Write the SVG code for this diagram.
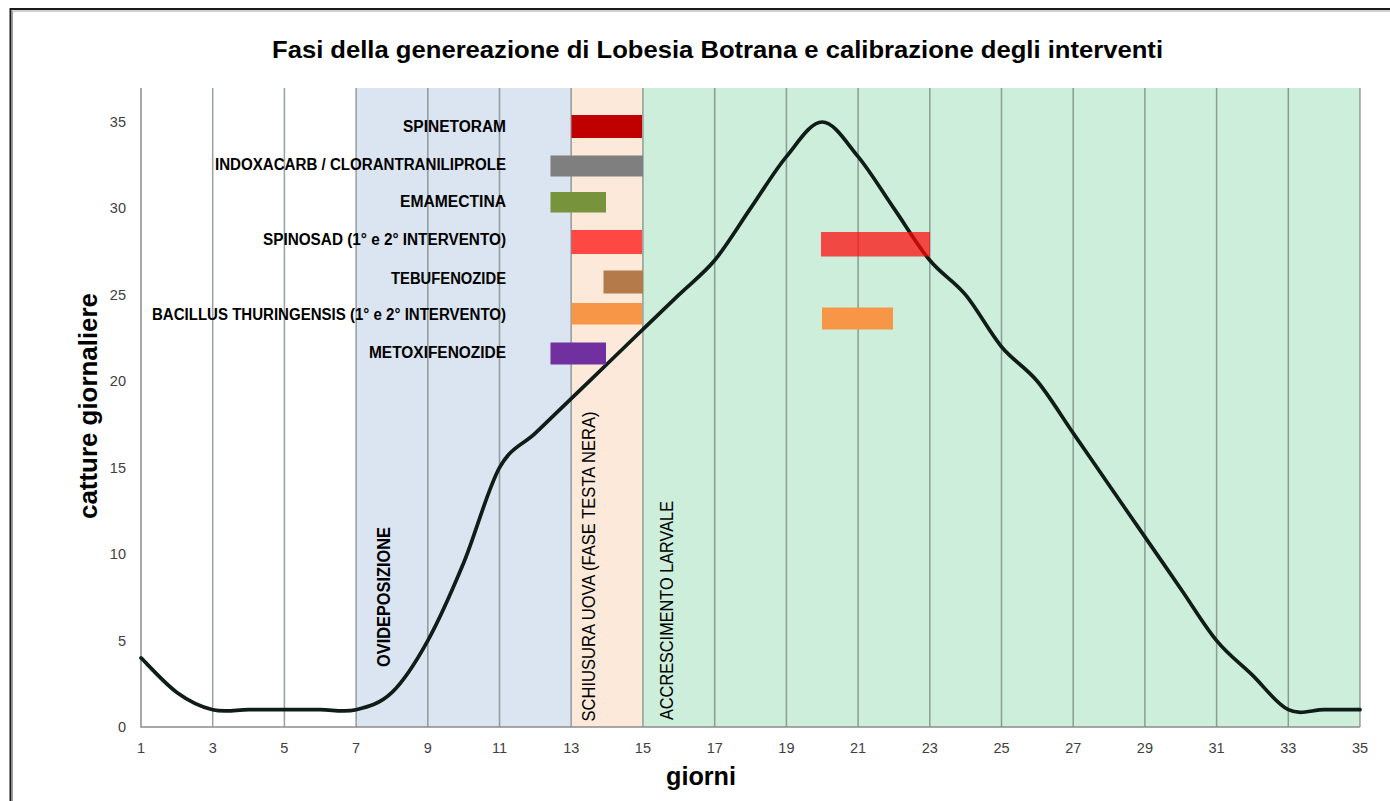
<svg xmlns="http://www.w3.org/2000/svg" width="1390" height="801" viewBox="0 0 1390 801">
<style>
  text { font-family: "Liberation Sans", Arial, sans-serif; }
  .grid { stroke: #6d7a76; stroke-opacity: 0.7; stroke-width: 1.5; fill: none; }
  .axis { stroke: #8c8c8c; stroke-width: 1.5; fill: none; }
  .tick { font-size: 14.5px; fill: #404040; }
  .xt { text-anchor: middle; }
  .yt { text-anchor: end; }
  .blab { font-size: 16px; font-weight: bold; fill: #000; text-anchor: end; }
  .vlab { font-size: 18px; fill: #000; }
  .atitle { font-size: 26px; font-weight: bold; fill: #000; }
  .curve { fill: none; stroke: #101c18; stroke-width: 3.7; stroke-linejoin: round; stroke-linecap: round; }
</style>
<rect x="0" y="0" width="1390" height="801" fill="#ffffff"/>
<g id="frame">
  <path d="M10.5,801 V9 H1390" fill="none" stroke="#1a1a1a" stroke-width="2"/>
  <path d="M12.5,801 V11 H1390" fill="none" stroke="#a0a0a0" stroke-width="1"/>
</g>
<text id="title" x="272" y="58" font-size="24" font-weight="bold" fill="#000" textLength="891" lengthAdjust="spacingAndGlyphs">Fasi della genereazione di Lobesia Botrana e calibrazione degli interventi</text>
<g id="phases">
  <rect id="phase-ovideposizione" x="356.1" y="88" width="215.1" height="639" fill="#dbe5f1"/>
  <rect id="phase-schiusura" x="571.2" y="88" width="71.7" height="639" fill="#fde9d9"/>
  <rect id="phase-accrescimento" x="642.9" y="88" width="717.1" height="639" fill="#cdeedb"/>
</g>
<g id="grid">
  <path class="grid" d="M212.7,88V727 M284.4,88V727 M356.1,88V727 M427.8,88V727 M499.5,88V727 M571.2,88V727 M642.9,88V727 M714.7,88V727 M786.4,88V727 M858.1,88V727 M929.8,88V727 M1001.5,88V727 M1073.2,88V727 M1144.9,88V727 M1216.6,88V727 M1288.3,88V727 M1360,88V727"/>
</g>
<g id="axes">
  <path class="axis" d="M141,88 V727 H1360"/>
</g>
<g id="y-ticks" class="tick yt">
  <text x="126" y="732">0</text>
  <text x="126" y="645.6">5</text>
  <text x="126" y="559.1">10</text>
  <text x="126" y="472.7">15</text>
  <text x="126" y="386.3">20</text>
  <text x="126" y="299.9">25</text>
  <text x="126" y="213.4">30</text>
  <text x="126" y="127">35</text>
</g>
<g id="x-ticks" class="tick xt">
  <text x="141" y="753">1</text>
  <text x="212.7" y="753">3</text>
  <text x="284.4" y="753">5</text>
  <text x="356.1" y="753">7</text>
  <text x="427.8" y="753">9</text>
  <text x="499.5" y="753">11</text>
  <text x="571.2" y="753">13</text>
  <text x="642.9" y="753">15</text>
  <text x="714.7" y="753">17</text>
  <text x="786.4" y="753">19</text>
  <text x="858.1" y="753">21</text>
  <text x="929.8" y="753">23</text>
  <text x="1001.5" y="753">25</text>
  <text x="1073.2" y="753">27</text>
  <text x="1144.9" y="753">29</text>
  <text x="1216.6" y="753">31</text>
  <text x="1288.3" y="753">33</text>
  <text x="1360" y="753">35</text>
</g>
<g id="axis-titles">
  <text class="atitle" x="701" y="785" text-anchor="middle" textLength="70" lengthAdjust="spacingAndGlyphs">giorni</text>
  <text class="atitle" transform="translate(97,406) rotate(-90)" text-anchor="middle" textLength="226" lengthAdjust="spacingAndGlyphs">catture giornaliere</text>
</g>
<g id="phase-labels">
  <text class="vlab" font-weight="bold" transform="translate(389.5,667) rotate(-90)" textLength="140" lengthAdjust="spacingAndGlyphs">OVIDEPOSIZIONE</text>
  <text class="vlab" transform="translate(595,721.5) rotate(-90)" textLength="310" lengthAdjust="spacingAndGlyphs">SCHIUSURA UOVA (FASE TESTA NERA)</text>
  <text class="vlab" transform="translate(672.5,720) rotate(-90)" textLength="219" lengthAdjust="spacingAndGlyphs">ACCRESCIMENTO LARVALE</text>
</g>
<g id="series-curve">
  <path class="curve" d="M141,657.9 C147.0,663.6 164.9,683.8 176.9,692.4 C188.8,701.1 200.8,706.8 212.7,709.7 C224.7,712.6 236.6,709.7 248.6,709.7 C260.5,709.7 272.5,709.7 284.4,709.7 C296.4,709.7 308.3,709.7 320.3,709.7 C332.2,709.7 344.2,712.6 356.1,709.7 C368.1,706.8 380.0,703.9 392.0,692.4 C403.9,680.9 415.9,662.2 427.8,640.6 C439.8,619.0 451.7,591.6 463.7,562.8 C475.6,534.0 487.6,489.3 499.5,467.7 C511.5,446.1 523.4,444.7 535.4,433.1 C547.3,421.6 559.3,410.1 571.2,398.6 C583.2,387.1 595.1,375.5 607.1,364.0 C619.0,352.5 631.0,341.0 642.9,329.4 C654.9,317.9 666.8,306.4 678.8,294.9 C690.7,283.3 702.7,274.7 714.7,260.3 C726.6,245.9 738.6,225.7 750.5,208.4 C762.5,191.1 774.4,171.0 786.4,156.6 C798.3,142.2 810.3,122.0 822.2,122.0 C834.2,122.0 846.1,142.2 858.1,156.6 C870.0,171.0 882.0,191.1 893.9,208.4 C905.9,225.7 917.8,245.9 929.8,260.3 C941.7,274.7 953.7,280.5 965.6,294.9 C977.6,309.3 989.5,332.3 1001.5,346.7 C1013.4,361.1 1025.4,366.9 1037.3,381.3 C1049.3,395.7 1061.2,415.9 1073.2,433.1 C1085.1,450.4 1097.1,467.7 1109.0,485.0 C1121.0,502.3 1132.9,519.6 1144.9,536.9 C1156.8,554.1 1168.8,571.4 1180.7,588.7 C1192.7,606.0 1204.6,626.2 1216.6,640.6 C1228.5,655.0 1240.5,663.6 1252.4,675.1 C1264.4,686.7 1276.3,704.0 1288.3,709.7 C1300.2,715.5 1312.2,709.7 1324.2,709.7 C1336.1,709.7 1354.0,709.7 1360.0,709.7"/>
</g>
<g id="treatments">
  <g id="spinetoram">
    <rect x="571.5" y="115" width="70.5" height="23" fill="#c00000"/>
    <text class="blab" x="506" y="132" textLength="103" lengthAdjust="spacingAndGlyphs">SPINETORAM</text>
  </g>
  <g id="indoxacarb">
    <rect x="550.5" y="155.5" width="92.5" height="21" fill="#7f7f7f"/>
    <text class="blab" x="506" y="170" textLength="291" lengthAdjust="spacingAndGlyphs">INDOXACARB / CLORANTRANILIPROLE</text>
  </g>
  <g id="emamectina">
    <rect x="550.5" y="192" width="55.5" height="20.5" fill="#77933c"/>
    <text class="blab" x="506" y="207" textLength="106" lengthAdjust="spacingAndGlyphs">EMAMECTINA</text>
  </g>
  <g id="spinosad">
    <rect x="571.5" y="230" width="70.5" height="24" fill="#ff0808" fill-opacity="0.72"/>
    <rect x="821" y="232" width="109" height="24.5" fill="#ff0808" fill-opacity="0.72"/>
    <text class="blab" x="506" y="245" textLength="243" lengthAdjust="spacingAndGlyphs">SPINOSAD (1° e 2° INTERVENTO)</text>
  </g>
  <g id="tebufenozide">
    <rect x="603.5" y="270.5" width="39.5" height="23" fill="#b47a4a"/>
    <text class="blab" x="506" y="284" textLength="115" lengthAdjust="spacingAndGlyphs">TEBUFENOZIDE</text>
  </g>
  <g id="bacillus">
    <rect x="571.5" y="303" width="70.5" height="21.5" fill="#f79646"/>
    <rect x="822" y="307.5" width="71" height="22" fill="#f79646"/>
    <text class="blab" x="506" y="320" textLength="354" lengthAdjust="spacingAndGlyphs">BACILLUS THURINGENSIS (1° e 2° INTERVENTO)</text>
  </g>
  <g id="metoxifenozide">
    <rect x="550.5" y="342.5" width="55.5" height="22" fill="#7030a0"/>
    <text class="blab" x="506" y="358" textLength="137" lengthAdjust="spacingAndGlyphs">METOXIFENOZIDE</text>
  </g>
</g>
</svg>
